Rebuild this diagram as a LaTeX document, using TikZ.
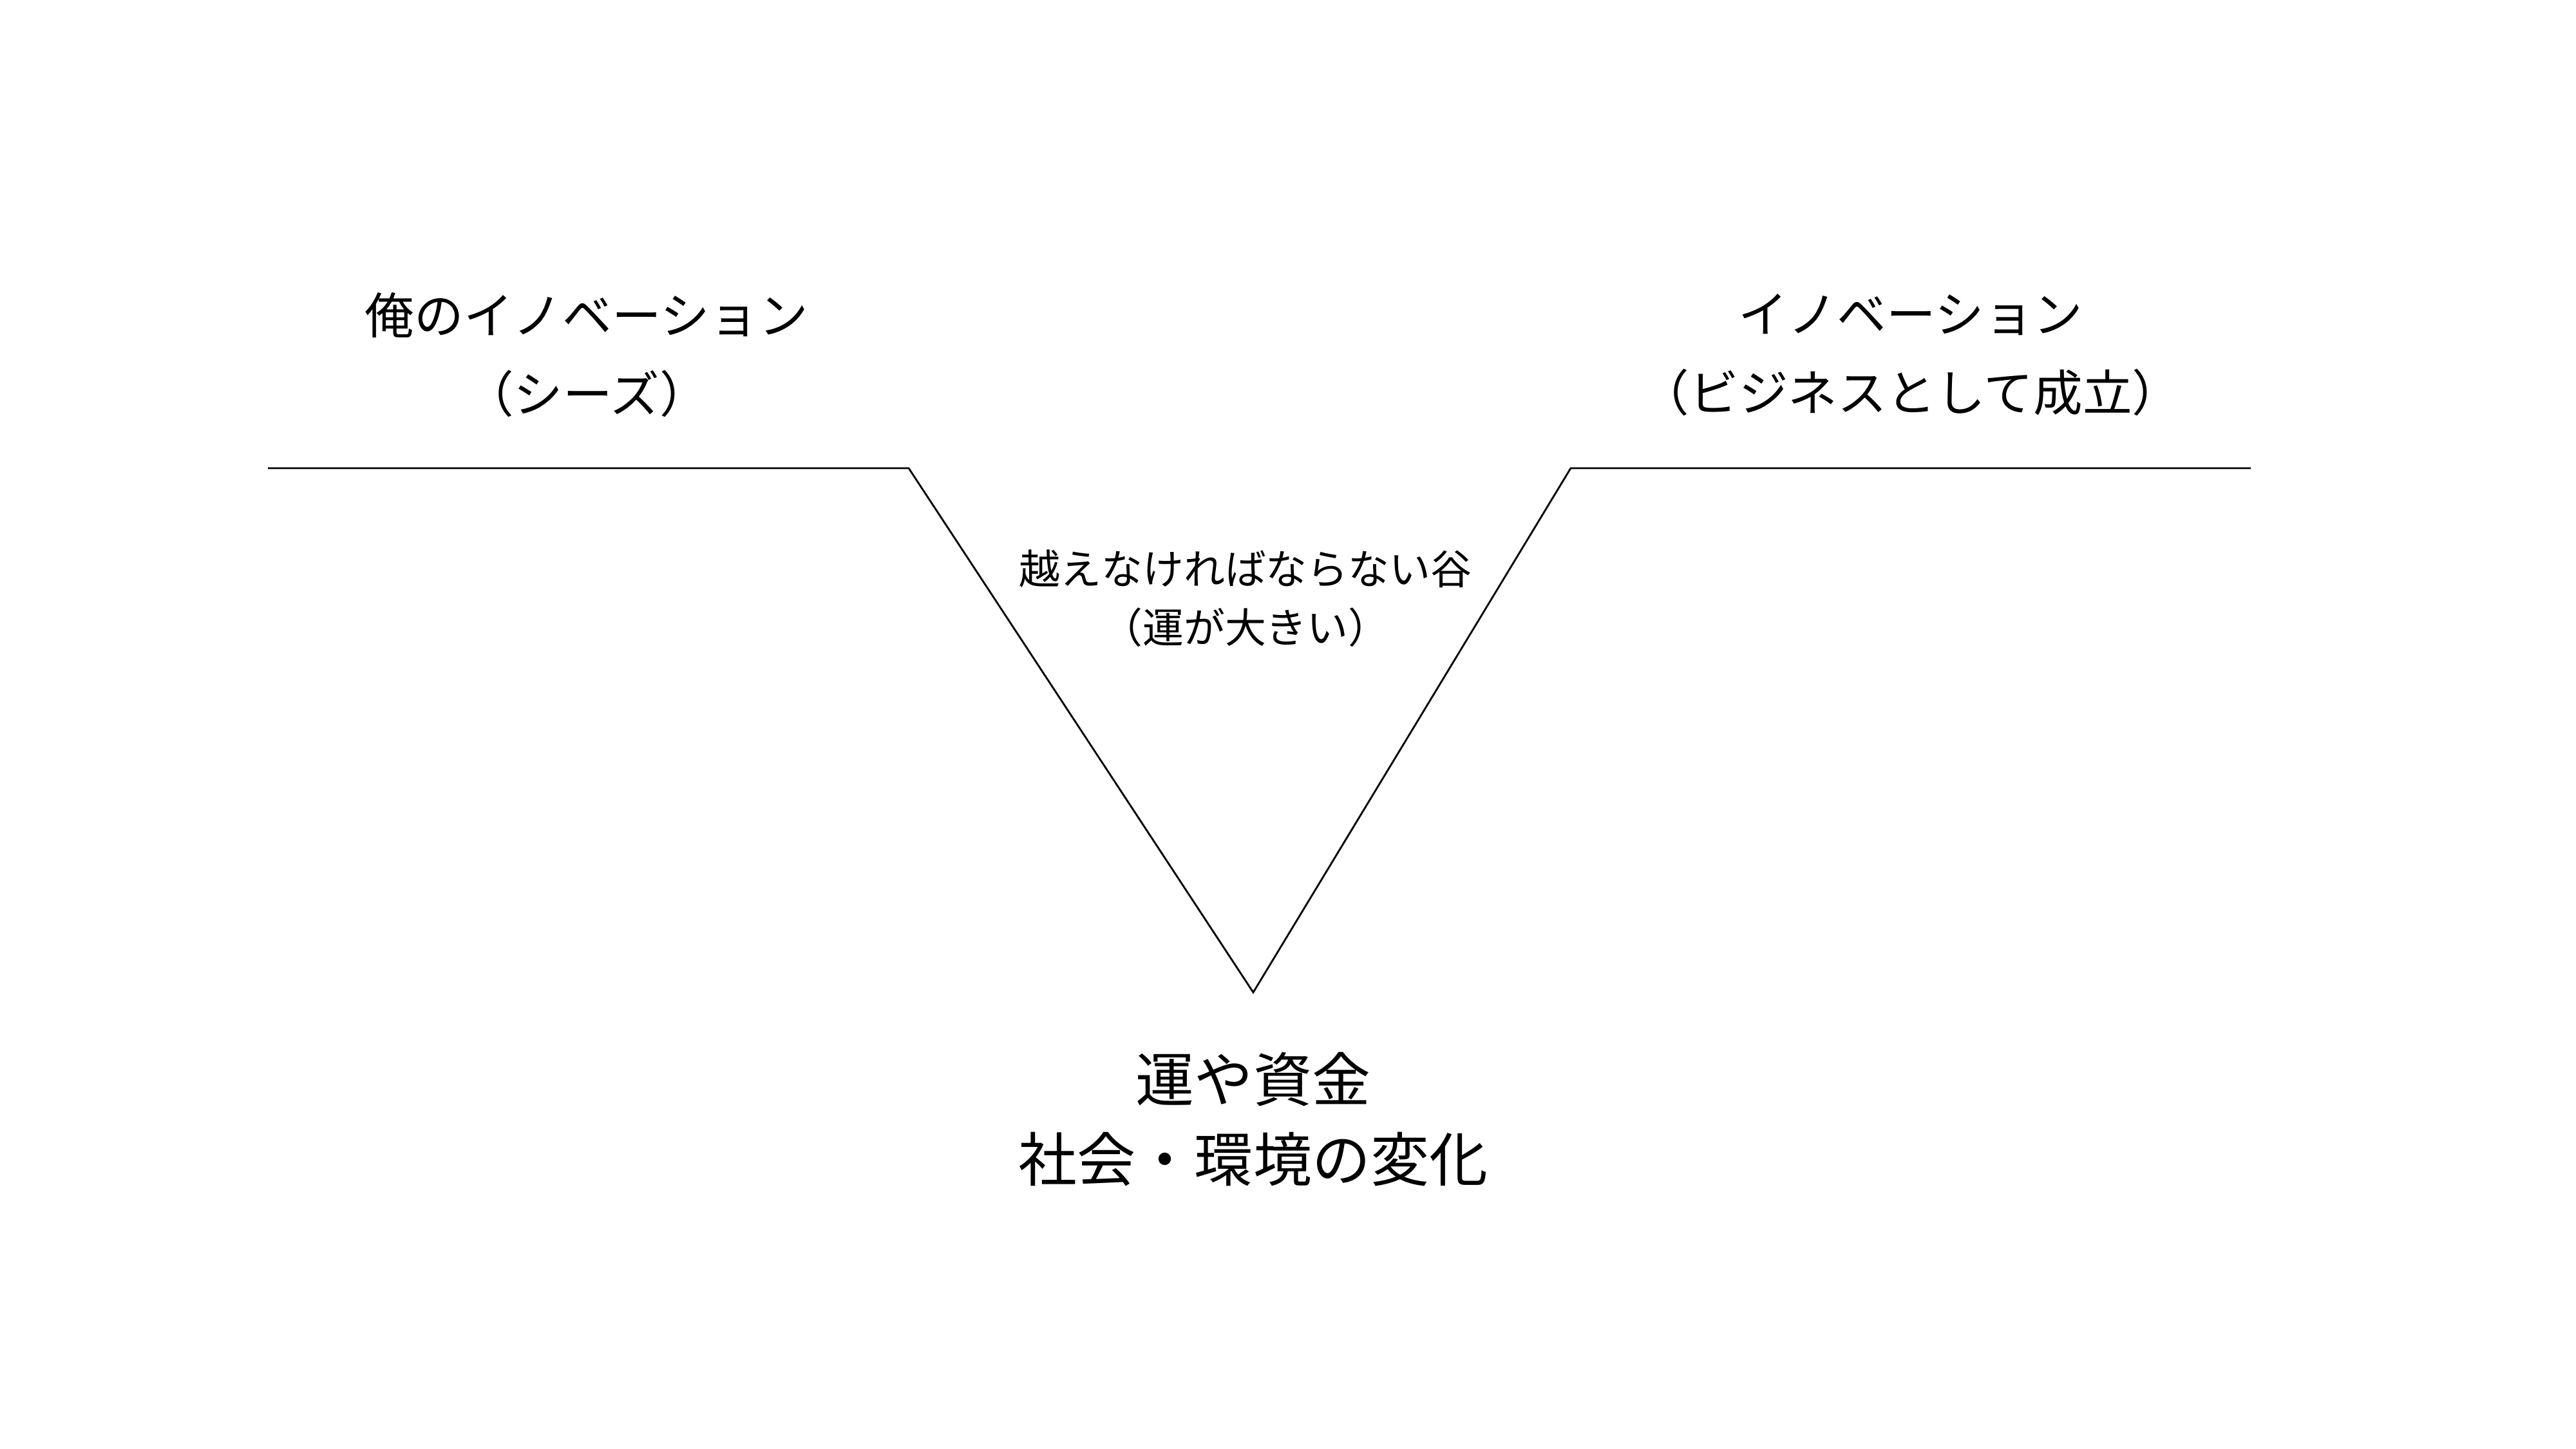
\documentclass[tikz,border=0pt]{standalone}
\usepackage{fontspec}
\newfontfamily\jpfont{Noto Sans CJK JP}
\usetikzlibrary{positioning}

\begin{document}
\begin{tikzpicture}[
    label/.style={align=center, inner sep=0pt, font=\jpfont\fontsize{21.8}{34.7}\selectfont},
    valleylabel/.style={label, font=\jpfont\fontsize{18.2}{26}\selectfont},
    bottomlabel/.style={label, font=\jpfont\fontsize{25.9}{35.4}\selectfont},
    valley/.style={line width=0.8pt, line join=miter}
]
\useasboundingbox (0,0) rectangle (40,22.5);

% valley outline
\coordinate (start) at (4.16,15.23);
\coordinate (edgeL) at (14.11,15.23);
\coordinate (bottom) at (19.46,7.09);
\coordinate (edgeR) at (24.39,15.23);
\coordinate (finish) at (34.95,15.23);
\draw[valley] (start) -- (edgeL) -- (bottom) -- (edgeR) -- (finish);

% labels
\node[label] (seeds) at (9.11,16.99) {俺のイノベーション\\（シーズ）};
\node[label] (business) at (29.67,16.99) {イノベーション\\（ビジネスとして成立）};
\node[valleylabel] (gap) at (19.34,13.21) {越えなければならない谷\\（運が大きい）};
\node[bottomlabel] (factors) at (19.46,5.12) {運や資金\\社会・環境の変化};
\end{tikzpicture}
\end{document}
